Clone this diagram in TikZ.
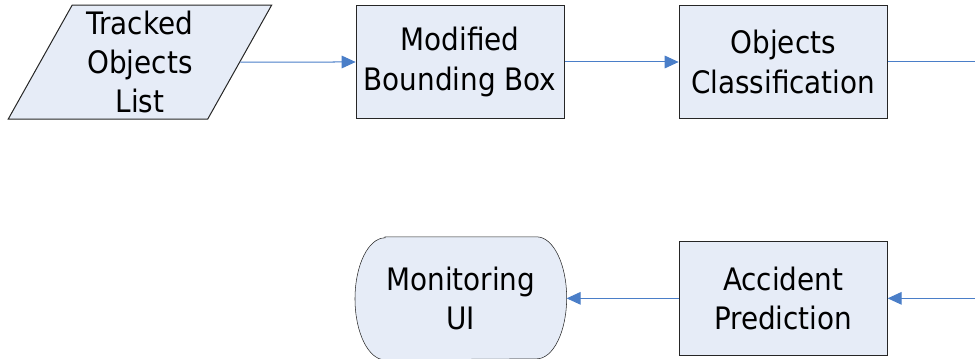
\documentclass[tikz,border=0pt]{standalone}
\usepackage{fontspec}
\setsansfont{DejaVu Sans Condensed}
\usetikzlibrary{arrows.meta,calc,positioning,shapes.geometric,backgrounds}

\definecolor{boxfill}{HTML}{E6ECF7}
\definecolor{boxline}{HTML}{262626}
\definecolor{linkblue}{HTML}{4A7EC8}

\tikzset{
	block/.style={draw=boxline, fill=boxfill, minimum width=156pt, minimum height=85pt,
		inner sep=0pt, align=center, font=\sffamily\fontsize{23.2}{29.5}\selectfont},
	iobox/.style={block, trapezium, trapezium left angle=64, trapezium right angle=116,
		trapezium stretches=true, minimum width=198pt, minimum height=85.5pt},
	termbox/.style={block, draw=none, fill=none, minimum width=158pt, minimum height=91.5pt},
	link/.style={draw=linkblue, ->}
}

\begin{document}
\begin{tikzpicture}[x=0.75pt,y=-0.75pt,line width=0.75pt,>={Triangle[length=10.5pt,width=9.5pt]},node distance=85.5pt]
		\useasboundingbox (0,0) rectangle (975,358);
		\node[iobox] (list) at (140,62) {Tracked\\Objects\\List};
		\node[block] [right=86.5pt of list] (bbox) {Modified\\Bounding Box};
		\node[block] [right=of bbox] (classif) {Objects\\Classification};
		\node[block] [below=91.5pt of classif] (predict) {Accident\\Prediction};
		\node[termbox] [left=84pt of predict] (ui) {Monitoring\\UI};
		\begin{scope}[on background layer]
			\draw[draw=boxline, fill=boxfill] ($(ui.north west)+(30,0)$) -- ($(ui.north east)+(-30,0)$)
				arc[start angle=90, end angle=-90, x radius=22.5pt, y radius=45.75pt]
				-- ($(ui.south west)+(30,0)$)
				arc[start angle=270, end angle=90, x radius=22.5pt, y radius=45.75pt] -- cycle;
		\end{scope}
		\coordinate (turn) at ($(classif.east)+(95,0)$);
		\path[every edge/.style={link}]
			(list) edge (bbox)
			(bbox) edge (classif)
			(predict) edge (ui);
		\draw[link] (classif.east) -- (turn) |- (predict.east);
\end{tikzpicture}
\end{document}
